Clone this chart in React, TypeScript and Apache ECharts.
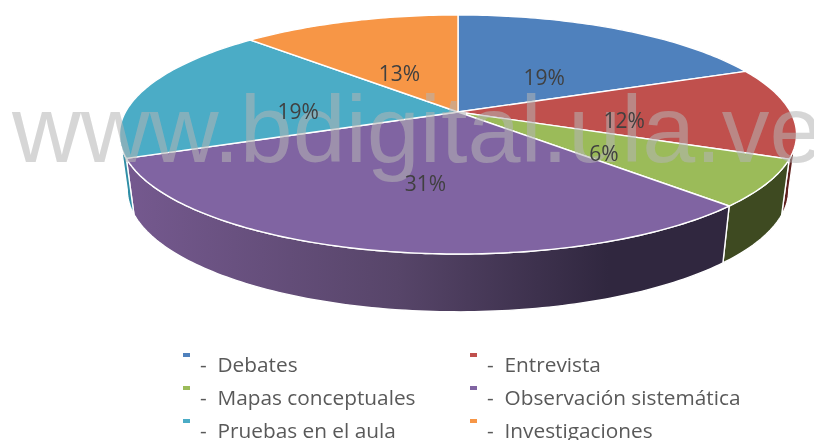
import React, { useEffect, useRef } from "react";
import * as echarts from "echarts";

const CATEGORIES = ["Debates", "Entrevista", "Mapas conceptuales", "Observación sistemática", "Pruebas en el aula", "Investigaciones"];
const VALUES = [18.85, 12.35, 6.3, 31.4, 18.6, 12.5];
const COLORS = ["#4f81bd", "#c0504d", "#9bbb59", "#8064a2", "#4bacc6", "#f79646"];
const WATERMARK = "www.bdigital.ula.ve";

const TOTAL = VALUES.reduce((a, b) => a + b, 0);
const STARTS = VALUES.map((_, i) => VALUES.slice(0, i).reduce((a, b) => a + b, 0) / TOTAL * 360);
const ENDS = VALUES.map((_, i) => VALUES.slice(0, i + 1).reduce((a, b) => a + b, 0) / TOTAL * 360);

// Perspective pie geometry
const CX = 458, CY = 112, A = 332.5, B = 115.3, K = 0.188;
const BOTTOM_SCALE_X = 0.977, BOTTOM_CY = 167, BOTTOM_SCALE_Y = 1.02;
const SIL = Math.asin(K) * 180 / Math.PI;

function project(deg: number, r = 1): number[] {
  const t = deg * Math.PI / 180;
  const u = Math.sin(t) * r, v = -Math.cos(t) * r;
  const s = 1 / (1 - K * v);
  return [CX + A * u * s, CY + B * v * s];
}
function projectBottom(deg: number): number[] {
  const p = project(deg);
  return [CX + BOTTOM_SCALE_X * (p[0] - CX), BOTTOM_CY + BOTTOM_SCALE_Y * (p[1] - CY)];
}
function arc(a: number, b: number, f: (d: number) => number[]): number[][] {
  const n = Math.max(2, Math.ceil(Math.abs(b - a)));
  const out: number[][] = [];
  for (let i = 0; i <= n; i++) out.push(f(a + (b - a) * i / n));
  return out;
}

// visible range of the outer wall of each slice
function wallRange(i: number): number[] | null {
  const a = Math.max(STARTS[i], 90 + SIL), b = Math.min(ENDS[i], 270 - SIL);
  return a < b ? [a, b] : null;
}
const WALL_FILLS: any[] = [
  null,
  "#5e1f1d",
  "#3e4a21",
  new echarts.graphic.LinearGradient(0, 0, 1, 0, [
    { offset: 0, color: "#75598f" },
    { offset: 0.45, color: "#574569" },
    { offset: 0.8, color: "#30273f" },
    { offset: 1, color: "#30273f" },
  ]),
  "#2f8ea6",
  null,
];
const LABEL_NUDGE = [[0, 9], [0, 8], [0, 7], [4, 9], [0, 10], [0, 10]];

function sliceRender(i: number) {
  return () => {
    const children: any[] = [];
    const w = wallRange(i);
    if (w) {
      const pts = [...arc(w[0], w[1], (d) => project(d)), ...arc(w[1], w[0], projectBottom)];
      children.push({
        type: "polygon",
        shape: { points: pts },
        style: { fill: WALL_FILLS[i], stroke: "#ffffff", lineWidth: 1.4, lineJoin: "round" },
      });
    }
    const top = [[CX, CY], ...arc(STARTS[i], ENDS[i], (d) => project(d))];
    children.push({
      type: "polygon",
      shape: { points: top },
      style: { fill: COLORS[i], stroke: "#ffffff", lineWidth: 1.4, lineJoin: "round" },
    });
    return { type: "group", children };
  };
}

function labelRender() {
  return {
    type: "group",
    children: VALUES.map((val, i) => {
      const p = project((STARTS[i] + ENDS[i]) / 2, 0.5);
      return {
        type: "text",
        x: p[0] + LABEL_NUDGE[i][0],
        y: p[1] + LABEL_NUDGE[i][1],
        style: {
          text: Math.round(val / TOTAL * 100) + "%",
          fill: "#404040",
          font: '21px "Open Sans"',
          align: "center",
          verticalAlign: "middle",
        },
      };
    }),
  };
}

const legendText = (name: string) => "-  " + name;

export default function App() {
  const ref = useRef<HTMLDivElement>(null);
  useEffect(() => {
    const chart = echarts.init(ref.current!, null, { renderer: "svg" });
    const legendBase = {
      orient: "vertical" as const,
      itemWidth: 7,
      itemHeight: 22,
      itemGap: 0,
      icon: "path://M0 0H7V4H0ZM0 22H0V22Z",
      selectedMode: false,
      padding: 0,
      height: 130,
      textStyle: {
        color: "#595959",
        fontFamily: "Open Sans",
        fontSize: 20.8,
        padding: [0, 0, 0, 5],
        lineHeight: 33,
      },
    };
    chart.setOption({
      animation: false,
      legend: [
        { ...legendBase, left: 183, top: 347.5, data: [0, 2, 4].map((i) => legendText(CATEGORIES[i])) },
        { ...legendBase, left: 470, top: 347.5, data: [1, 3, 5].map((i) => legendText(CATEGORIES[i])) },
      ],
      graphic: [
        {
          type: "text",
          z: 5,
          x: 12,
          y: 81,
          silent: true,
          style: {
            text: WATERMARK,
            font: '95.3px "Liberation Sans"',
            fill: "rgba(180,180,180,0.55)",
            align: "left",
          },
        },
      ],
      series: [
        ...CATEGORIES.map((name, i) => ({
          type: "custom",
          name: legendText(name),
          coordinateSystem: "none",
          z: 2,
          silent: true,
          itemStyle: { color: COLORS[i] },
          data: [[VALUES[i]]],
          renderItem: sliceRender(i),
        })),
        {
          type: "custom",
          name: "labels",
          coordinateSystem: "none",
          z: 8,
          silent: true,
          data: [[0]],
          renderItem: labelRender,
        },
      ],
    });
    return () => chart.dispose();
  }, []);
  return <div ref={ref} style={{ position: "fixed", left: 0, top: 0, width: 814, height: 440 }} />;
}
